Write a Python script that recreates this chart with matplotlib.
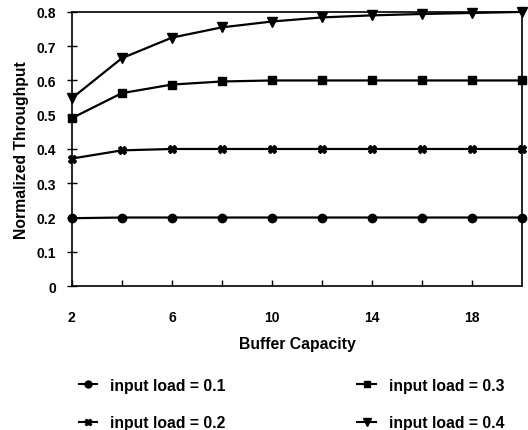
import numpy as np
import matplotlib.pyplot as plt
from matplotlib.lines import Line2D

plt.rcParams['font.family'] = ['Liberation Sans', 'DejaVu Sans']
plt.rcParams['font.weight'] = 'bold'

buffer = np.array([2, 4, 6, 8, 10, 12, 14, 16, 18, 20])
load_01 = [0.198, 0.2, 0.2, 0.2, 0.2, 0.2, 0.2, 0.2, 0.2, 0.2]
load_02 = [0.372, 0.396, 0.4, 0.4, 0.4, 0.4, 0.4, 0.4, 0.4, 0.4]
load_03 = [0.49, 0.563, 0.588, 0.597, 0.6, 0.6, 0.6, 0.6, 0.6, 0.6]
load_04 = [0.548, 0.665, 0.725, 0.755, 0.772, 0.784, 0.79, 0.794, 0.797, 0.8]

fs = 10
fs_lab = 11.3

fig = plt.figure(figsize=(5.28, 4.31), dpi=100)
ax = fig.add_axes([0.136, 0.334, 0.853, 0.636])

lw = 1.6
ax.plot(buffer, load_01, 'k-', marker='o', ms=6, lw=lw, clip_on=False)
ax.plot(buffer, load_02, 'k-', marker='X', ms=6, lw=lw, clip_on=False)
ax.plot(buffer, load_03, 'k-', marker='s', ms=5.5, lw=lw, clip_on=False)
ax.plot(buffer, load_04, 'k-', marker='v', ms=7, lw=lw, clip_on=False)

ax.set_xlim(2, 20)
ax.set_ylim(0, 0.8)
ax.set_xticks([2, 6, 10, 14, 18])
ax.set_xticks([4, 8, 12, 16], minor=True)
ax.set_yticks(np.arange(0, 0.81, 0.1))
ax.set_yticklabels(['0', '0.1', '0.2', '0.3', '0.4', '0.5', '0.6', '0.7', '0.8'])
ax.tick_params(axis='y', direction='inout', length=7, width=1, labelsize=fs, pad=8)
ax.tick_params(axis='x', which='both', direction='in', length=4, width=1, labelsize=fs, pad=17)
for s in ax.spines.values():
    s.set_linewidth(1.2)

ax.set_xlabel('Buffer Capacity', fontsize=fs_lab, fontweight='bold', labelpad=9)
ax.set_ylabel('Normalized Throughput', fontsize=fs_lab, fontweight='bold', labelpad=5)

handles = [
    Line2D([], [], color='k', marker='o', ms=5, lw=1.5),
    Line2D([], [], color='k', marker='X', ms=5, lw=1.5),
    Line2D([], [], color='k', marker='s', ms=4.5, lw=1.5),
    Line2D([], [], color='k', marker='v', ms=6, lw=1.5),
]
labels = ['input load = 0.1', 'input load = 0.2', 'input load = 0.3', 'input load = 0.4']
fig.legend(handles, labels, loc='lower left', bbox_to_anchor=(0.122, -0.033), ncol=2,
           frameon=False, fontsize=fs_lab, handlelength=1.2, handletextpad=0.8,
           columnspacing=8.4, labelspacing=1.43)

plt.savefig('out.png', dpi=100)
